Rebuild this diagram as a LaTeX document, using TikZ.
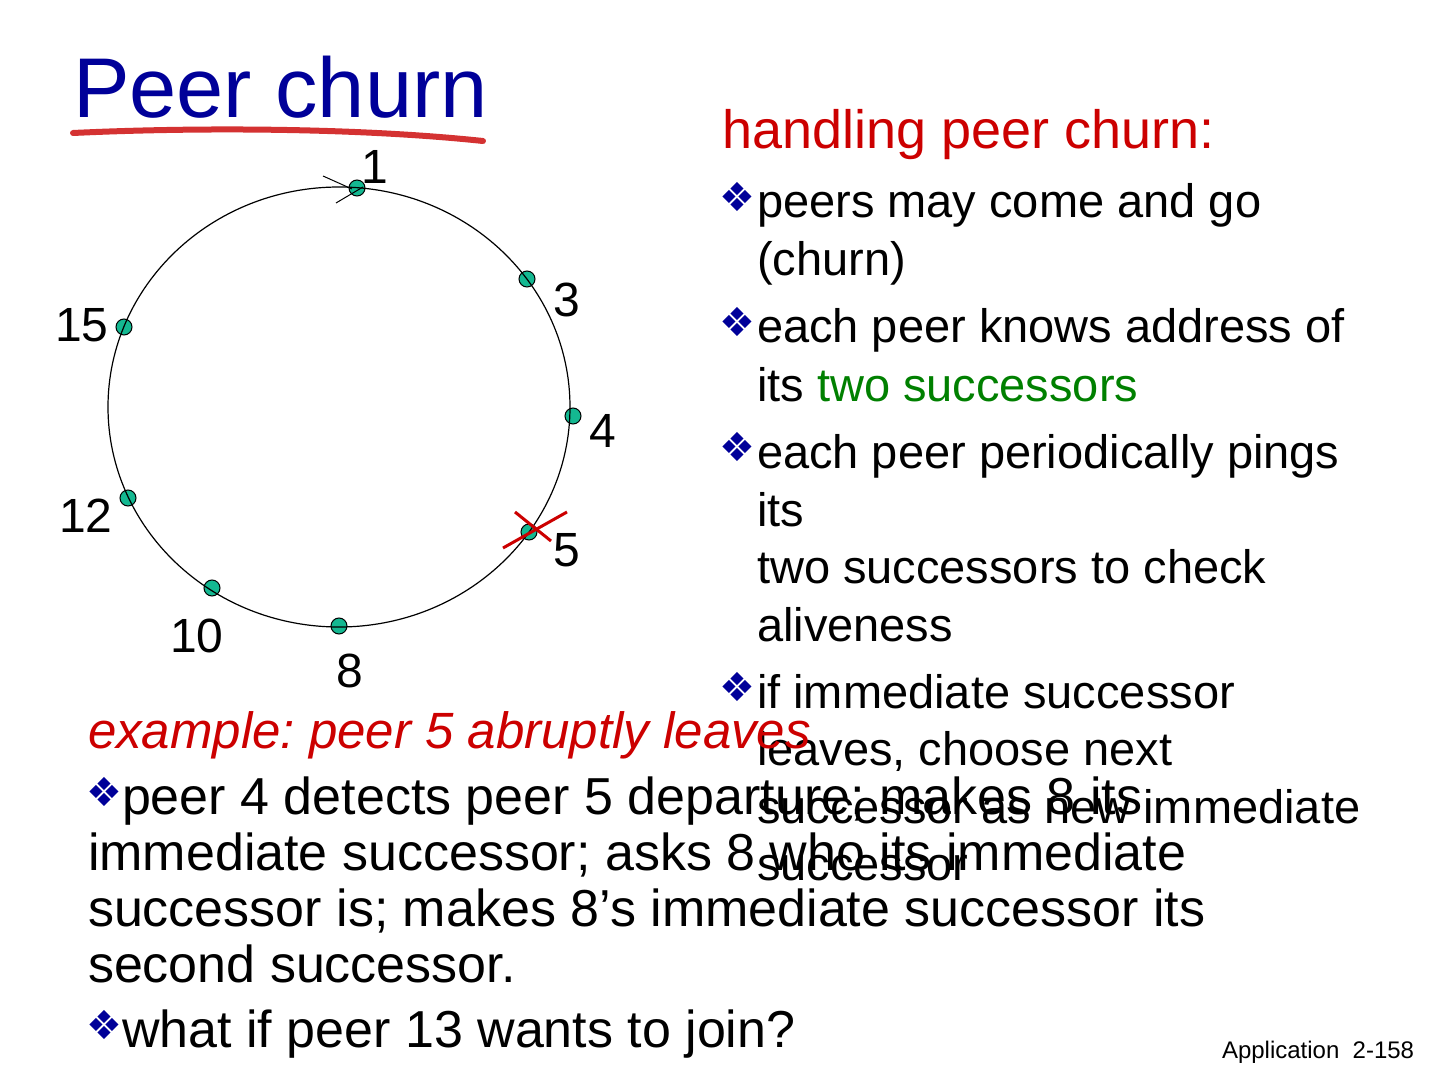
\documentclass[tikz,border=0pt]{standalone}
\usepackage{fontspec}
\setmainfont{Liberation Sans}
\newfontfamily\dejavu{DejaVu Sans}
\definecolor{titleblue}{RGB}{0,0,153}
\definecolor{slidered}{RGB}{204,0,0}
\definecolor{slidegreen}{RGB}{0,128,0}
\definecolor{peerteal}{RGB}{20,184,145}
\definecolor{brushred}{RGB}{212,50,50}
\frenchspacing
\begin{document}
\begin{tikzpicture}[x=0.5pt,y=-0.5pt,
  txt/.style={anchor=base west, inner sep=0pt, outer sep=0pt},
  rbody/.style={txt, font=\fontsize{23.5}{28}\selectfont},
  bbody/.style={txt, font=\fontsize{26}{28}\selectfont},
  bul/.style={inner sep=0pt, text=titleblue, font=\dejavu\fontsize{20}{20}\selectfont},
  peer/.style={circle, draw=black, line width=0.5pt, fill=peerteal, minimum size=8pt, inner sep=0pt},
  lbl/.style={inner sep=0pt, font=\fontsize{24}{24}\selectfont}]
\fill[white] (0,0) rectangle (1440,1080);
\useasboundingbox (0,0) rectangle (1440,1080);

% title
\node[txt, text=titleblue, font=\fontsize{42.4}{43}\selectfont] (title) at (73,118) {Peer churn};
\draw[brushred, line width=3pt, line cap=round] (73,133) .. controls (200,127) and (360,128) .. (483,141);

% ring peers
\node[peer] (p1) at (357,188) {};
\node[peer] (p3) at (527,279) {};
\node[peer] (p15) at (124,327) {};
\node[peer] (p4) at (573,416) {};
\node[peer] (p12) at (128,498) {};
\node[peer] (p5) at (529,532) {};
\node[peer] (p10) at (212,588) {};
\node[peer] (p8) at (339,626) {};
\coordinate (ringc) at (339,407);
\draw[line width=0.6pt] (ringc) ellipse [x radius=231, y radius=220];

% marks at peer 1
\coordinate (m1a) at (323,176);
\coordinate (m1b) at (352,189);
\coordinate (m2a) at (336,203);
\coordinate (m2b) at (363,187);
\draw[line width=0.5pt] (m1a) -- (m1b);
\draw[line width=0.5pt] (m2a) -- (m2b);

% red cross at peer 5
\coordinate (x1a) at (515,512);
\coordinate (x1b) at (551,541);
\coordinate (x2a) at (503,548);
\coordinate (x2b) at (567,512);
\draw[slidered, line width=1.5pt] (x1a) -- (x1b);
\draw[slidered, line width=1.5pt] (x2a) -- (x2b);

% labels
\node[lbl] (l1) at (375,167) {1};
\node[lbl] (l3) at (567,300) {3};
\node[lbl] (l15) at (82,325) {15};
\node[lbl] (l4) at (603,431) {4};
\node[lbl] (l12) at (86,516) {12};
\node[lbl] (l5) at (567,550) {5};
\node[lbl] (l10) at (197,636) {10};
\node[lbl] (l8) at (350,671) {8};

% right column
\node[txt, text=slidered, font=\fontsize{27}{27}\selectfont] (head) at (722,149) {handling peer churn:};
\node[bul] (rb1) at (737,197) {❖};
\node[rbody] (r1a) at (757,218) {peers may come and go};
\node[rbody] (r1b) at (757,276) {(churn)};
\node[bul] (rb2) at (737,322) {❖};
\node[rbody] (r2a) at (757,343) {each peer knows address of};
\node[rbody] (r2b) at (757,401) {its \textcolor{slidegreen}{two successors}};
\node[bul] (rb3) at (737,447) {❖};
\node[rbody] (r3a) at (757,468) {each peer periodically pings};
\node[rbody] (r3b) at (757,526) {its};
\node[rbody] (r3c) at (757,583) {two successors to check};
\node[rbody] (r3d) at (757,641) {aliveness};
\node[bul] (rb4) at (737,687) {❖};
\node[rbody] (r4a) at (757,708) {if immediate successor};
\node[rbody] (r4b) at (757,765) {leaves, choose next};
\node[rbody] (r4c) at (757,823) {successor as new immediate};
\node[rbody] (r4d) at (757,880) {successor};

% bottom text
\node[bbody, text=slidered, font=\fontsize{25.5}{28}\selectfont\itshape] (ex) at (88,748) {example: peer 5 abruptly leaves};
\node[bul] (bb1) at (104,792) {❖};
\node[bbody] (b1a) at (122,814) {peer 4 detects peer 5 departure; makes 8 its};
\node[bbody] (b1b) at (88,870) {immediate successor; asks 8 who its immediate};
\node[bbody] (b1c) at (88,926) {successor is; makes 8’s immediate successor its};
\node[bbody] (b1d) at (88,982) {second successor.};
\node[bul] (bb2) at (104,1025) {❖};
\node[bbody] (b2) at (122,1047) {what if peer 13 wants to join?};

% footer
\node[txt, font=\fontsize{12}{12}\selectfont] (foot) at (1222,1058) {Application\ \ 2-158};
\end{tikzpicture}
\end{document}
